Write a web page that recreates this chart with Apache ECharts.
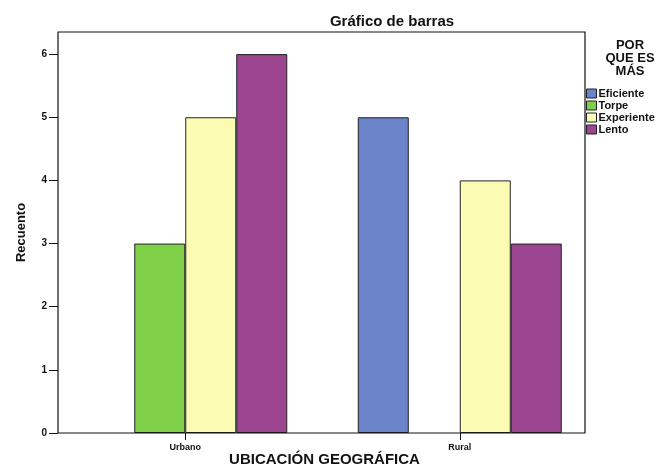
<!DOCTYPE html>
<html>
<head>
<meta charset="utf-8">
<script src="https://cdn.jsdelivr.net/npm/echarts@6/dist/echarts.min.js"></script>
<style>
  html, body { margin: 0; padding: 0; background: #fff; }
  #chart { width: 670px; height: 474px; }
</style>
</head>
<body>
<div id="chart"></div>
<script>
// data
var categories = ['Urbano', 'Rural'];
var seriesNames = ['Eficiente', 'Torpe', 'Experiente', 'Lento'];
var eficiente = [0, 5];
var torpe = [3, 0];
var experiente = [5, 4];
var lento = [6, 3];
var yTicks = [0, 1, 2, 3, 4, 5, 6];

var colors = ['#6b83c8', '#80cf48', '#fcfbb4', '#9c4590'];
var seriesData = [eficiente, torpe, experiente, lento];

var chart = echarts.init(document.getElementById('chart'));

var series = seriesNames.map(function (name, i) {
    return {
        name: name,
        type: 'bar',
        data: seriesData[i].map(function (v) { return v === 0 ? null : v; }),
        barWidth: 51,
        barGap: '0%',
        itemStyle: { color: colors[i], borderColor: '#222', borderWidth: 1 },
        emphasis: { disabled: true }
    };
});

chart.setOption({
    animation: false,
    textStyle: { fontFamily: 'Liberation Sans, Arial, sans-serif' },
    title: {
        text: 'Gráfico de barras',
        left: 387, top: 9, textAlign: 'center',
        textStyle: { fontSize: 15, fontWeight: 'bold', color: '#111' }
    },
    legend: {
        orient: 'vertical',
        left: 581, top: 83,
        itemWidth: 10, itemHeight: 9, itemGap: 1,
        icon: 'rect',
        itemStyle: { borderColor: '#222', borderWidth: 1 },
        textStyle: { fontSize: 11, fontWeight: 'bold', color: '#111', lineHeight: 11, padding: [0, 0, 0, -3] },
        data: seriesNames
    },
    graphic: [
        {
            type: 'text', x: 630, y: 39,
            style: {
                text: 'POR\nQUE ES\nMÁS', fill: '#111', align: 'center',
                font: 'bold 13px "Liberation Sans", Arial, sans-serif', lineHeight: 13
            }
        },
        {
            type: 'rect', shape: { x: 58, y: 32, width: 527, height: 401 },
            style: { fill: 'none', stroke: '#111', lineWidth: 1.2 }, z: 10
        }
    ],
    grid: { left: 48, right: 73, top: 32, bottom: 41, outerBoundsMode: 'none' },
    xAxis: {
        type: 'category',
        data: categories,
        name: 'UBICACIÓN GEOGRÁFICA',
        nameLocation: 'middle', nameGap: 19, nameMoveOverlap: false,
        nameTextStyle: { fontSize: 15, fontWeight: 'bold', color: '#111', padding: [0, 0, 0, 4] },
        axisLine: { show: false },
        axisTick: { show: true, alignWithLabel: true, length: 7, lineStyle: { color: '#111' } },
        axisLabel: { fontSize: 9, fontWeight: 'bold', color: '#111', margin: 10 }
    },
    yAxis: {
        type: 'value',
        min: 0, max: 6.35,
        offset: -10,
        name: 'Recuento',
        nameLocation: 'middle', nameGap: 30, nameMoveOverlap: false, nameRotate: 90,
        nameTextStyle: { fontSize: 13, fontWeight: 'bold', color: '#111' },
        axisLine: { show: false },
        axisTick: { show: true, length: 9, customValues: yTicks, lineStyle: { color: '#111' } },
        axisLabel: { fontSize: 10, fontWeight: 'bold', color: '#111', margin: 11, customValues: yTicks },
        splitLine: { show: false }
    },
    series: series
});
</script>
</body>
</html>
